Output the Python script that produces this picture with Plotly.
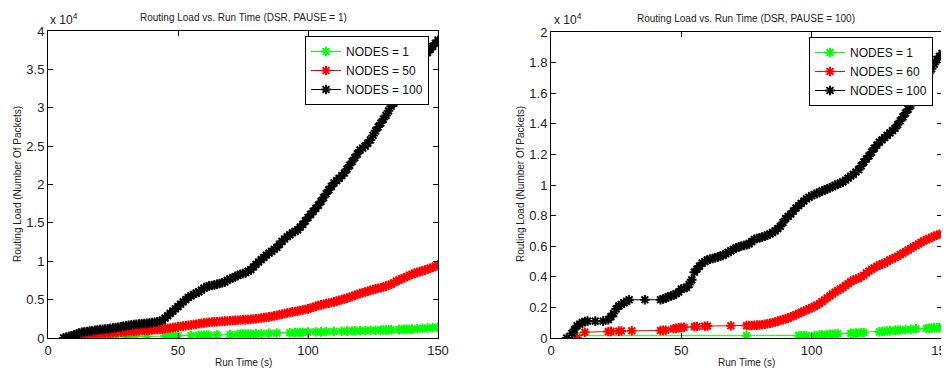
import plotly.graph_objects as go

# ---------------- Left panel (PAUSE = 1) ----------------
L_black_x = [6, 7, 8, 9, 10, 11, 12, 13, 14, 15,
             16, 17, 18, 19, 20, 21, 22, 23, 24, 25,
             26, 27, 28, 29, 30, 31, 32, 33, 34, 35,
             36, 37, 38, 39, 40, 41, 42, 43, 44, 45,
             46, 47, 48, 49, 50, 51, 52, 53, 54, 55,
             56, 57, 58, 59, 60, 61, 62, 63, 64, 65,
             66, 67, 68, 69, 70, 71, 72, 73, 74, 75,
             76, 77, 78, 79, 80, 81, 82, 83, 84, 85,
             86, 87, 88, 89, 90, 91, 92, 93, 94, 95,
             96, 97, 98, 99, 100, 101, 102, 103, 104, 105,
             106, 107, 108, 109, 110, 111, 112, 113, 114, 115,
             116, 117, 118, 119, 120, 121, 122, 123, 124, 125,
             126, 127, 128, 129, 130, 131, 132, 133, 134, 135,
             136, 137, 138, 139, 140, 141, 142, 143, 144, 145,
             146, 147, 148, 149, 150]
L_black_y = [0, 100, 200, 300, 400, 520, 650, 730, 800, 850,
             900, 950, 1000, 1050, 1100, 1120, 1150, 1200, 1250, 1300,
             1350, 1400, 1450, 1520, 1600, 1650, 1700, 1750, 1800, 1820,
             1850, 1880, 1900, 1950, 2000, 2050, 2100, 2180, 2300, 2600,
             2900, 3200, 3500, 3800, 4100, 4400, 4700, 5000, 5300, 5500,
             5700, 5850, 6000, 6250, 6500, 6650, 6800, 6850, 6900, 7000,
             7100, 7200, 7300, 7500, 7700, 7850, 8000, 8150, 8300, 8400,
             8500, 8700, 8900, 9250, 9600, 9900, 10200, 10500, 10800, 11050,
             11300, 11550, 11800, 12200, 12600, 12900, 13200, 13450, 13700, 13900,
             14100, 14450, 14800, 15250, 15700, 16100, 16500, 16900, 17300, 17800,
             18300, 18800, 19300, 19750, 20200, 20500, 20800, 21150, 21500, 22000,
             22500, 23000, 23500, 24000, 24500, 24750, 25000, 25400, 25800, 26400,
             27000, 27500, 28000, 28500, 29000, 29600, 30200, 30600, 31000, 31500,
             32000, 32600, 33200, 33700, 34200, 34750, 35300, 35850, 36400, 36800,
             37200, 37600, 38000, 38400, 38800]

L_red_x = [10, 11, 12, 13, 14, 15, 16, 17, 18, 19,
           20, 21, 22, 23, 24, 25, 26, 27, 28, 29,
           30, 31, 32, 33, 34, 35, 36, 37, 38, 39,
           40, 41, 42, 43, 44, 45, 46, 47, 48, 49,
           50, 51, 52, 53, 54, 55, 56, 57, 58, 59,
           60, 61, 62, 63, 64, 65, 66, 67, 68, 69,
           70, 71, 72, 73, 74, 75, 76, 77, 78, 79,
           80, 81, 82, 83, 84, 85, 86, 87, 88, 89,
           90, 91, 92, 93, 94, 95, 96, 97, 98, 99,
           100, 101, 102, 103, 104, 105, 106, 107, 108, 109,
           110, 111, 112, 113, 114, 115, 116, 117, 118, 119,
           120, 121, 122, 123, 124, 125, 126, 127, 128, 129,
           130, 131, 132, 133, 134, 135, 136, 137, 138, 139,
           140, 141, 142, 143, 144, 145, 146, 147, 148, 149,
           150]
L_red_y = [0, 80, 150, 220, 300, 350, 400, 450, 500, 520,
           550, 580, 600, 620, 650, 680, 700, 720, 750, 780,
           800, 820, 850, 880, 900, 920, 950, 980, 1000, 1020,
           1050, 1080, 1100, 1120, 1150, 1200, 1250, 1300, 1350, 1400,
           1450, 1500, 1550, 1600, 1650, 1700, 1750, 1800, 1850, 1900,
           1950, 2000, 2050, 2080, 2100, 2120, 2150, 2180, 2200, 2220,
           2250, 2280, 2300, 2320, 2350, 2380, 2400, 2420, 2450, 2480,
           2500, 2550, 2600, 2650, 2700, 2750, 2800, 2880, 2950, 3020,
           3100, 3180, 3250, 3320, 3400, 3450, 3500, 3580, 3650, 3720,
           3800, 3900, 4000, 4120, 4250, 4320, 4400, 4480, 4550, 4620,
           4700, 4800, 4900, 5000, 5100, 5200, 5300, 5420, 5550, 5680,
           5800, 5900, 6000, 6100, 6200, 6300, 6400, 6480, 6550, 6650,
           6750, 6880, 7000, 7200, 7400, 7550, 7700, 7850, 8000, 8150,
           8300, 8420, 8550, 8650, 8750, 8850, 8950, 9080, 9200, 9350,
           9500]

L_green_x = [8, 10, 12, 15, 18, 20, 25, 30, 33, 38, 45, 47, 48, 49, 50, 55, 58, 59, 60, 61,
             62, 65, 70, 73, 74, 75, 76, 77, 78, 80, 82, 85, 88, 93, 95, 96, 97, 98, 100, 103,
             105, 107, 110, 113, 115, 117, 118, 120, 122, 124, 126, 128, 129, 130, 131, 132, 135, 136, 137, 138,
             139, 140, 142, 144, 146, 148, 150]
L_green_y = [0, 20, 40, 60, 80, 100, 120, 150, 170, 200, 250, 270, 280, 290, 300, 320, 340, 350, 360, 370,
             380, 400, 450, 480, 490, 500, 510, 520, 530, 550, 570, 600, 630, 680, 700, 710, 720, 730, 760, 790,
             800, 820, 850, 880, 900, 920, 930, 950, 970, 990, 1010, 1030, 1040, 1050, 1060, 1070, 1100, 1110, 1120, 1130,
             1140, 1150, 1200, 1250, 1300, 1350, 1400]

# ---------------- Right panel (PAUSE = 100) ----------------
R_black_x = [6, 8, 9, 10, 11, 12, 13, 14, 17, 20,
             22, 23, 24, 25, 26, 27, 28, 29, 30, 36,
             42, 43, 44, 45, 46, 47, 48, 49, 50, 51,
             52, 53, 54, 55, 56, 57, 58, 59, 60, 61,
             62, 63, 64, 65, 66, 67, 68, 69, 70, 71,
             72, 73, 74, 75, 76, 77, 78, 79, 80, 81,
             82, 83, 84, 85, 86, 87, 88, 89, 90, 91,
             92, 93, 94, 95, 96, 97, 98, 99, 100, 101,
             102, 103, 104, 105, 106, 107, 108, 109, 110, 111,
             112, 113, 114, 115, 116, 117, 118, 119, 120, 121,
             122, 123, 124, 125, 126, 127, 128, 129, 130, 131,
             132, 133, 134, 135, 136, 137, 138, 139, 140, 141,
             142, 143, 144, 145, 146, 147, 148, 149, 150]
R_black_y = [0, 300, 550, 800, 900, 1000, 1080, 1100, 1100, 1100,
             1200, 1400, 1600, 1900, 2100, 2200, 2300, 2400, 2500, 2500,
             2500, 2550, 2600, 2700, 2750, 2800, 2900, 3000, 3200, 3250,
             3300, 3500, 3800, 4300, 4500, 4700, 4900, 5000, 5100, 5150,
             5200, 5250, 5300, 5350, 5400, 5500, 5600, 5700, 5800, 5880,
             5950, 6000, 6050, 6100, 6150, 6300, 6450, 6500, 6550, 6600,
             6650, 6720, 6800, 6900, 7000, 7150, 7300, 7550, 7800, 7950,
             8100, 8300, 8500, 8650, 8800, 8950, 9100, 9200, 9300, 9380,
             9450, 9520, 9600, 9680, 9750, 9820, 9900, 9980, 10050, 10120,
             10200, 10320, 10450, 10580, 10700, 10850, 11000, 11250, 11500, 11700,
             11900, 12150, 12400, 12600, 12800, 12950, 13100, 13250, 13400, 13550,
             13700, 13950, 14200, 14450, 14700, 14950, 15200, 15550, 15900, 16150,
             16400, 16700, 17000, 17300, 17600, 17900, 18200, 18400, 18600]

R_red_x = [10, 13, 22, 23, 26, 27, 31, 42, 43, 44,
           47, 48, 49, 50, 51, 55, 56, 59, 60, 69,
           75, 76, 77, 78, 79, 80, 81, 82, 83, 84,
           85, 86, 87, 88, 89, 90, 91, 92, 93, 94,
           95, 96, 97, 98, 99, 100, 101, 102, 103, 104,
           105, 106, 107, 108, 109, 110, 111, 112, 113, 114,
           115, 116, 117, 118, 119, 120, 121, 122, 123, 124,
           125, 126, 127, 128, 129, 130, 131, 132, 133, 134,
           135, 136, 137, 138, 139, 140, 141, 142, 143, 144,
           145, 146, 147, 148, 149, 150]
R_red_y = [0, 380, 420, 430, 450, 460, 470, 490, 500, 510,
           600, 640, 660, 680, 700, 740, 750, 770, 780, 800,
           810, 815, 820, 830, 840, 850, 870, 900, 930, 960,
           1000, 1050, 1100, 1150, 1200, 1250, 1300, 1380, 1450, 1520,
           1600, 1680, 1750, 1830, 1900, 1980, 2060, 2150, 2250, 2380,
           2500, 2620, 2750, 2880, 3000, 3100, 3200, 3300, 3420, 3550,
           3680, 3780, 3850, 3900, 4000, 4100, 4250, 4380, 4480, 4580,
           4680, 4760, 4830, 4900, 5000, 5100, 5180, 5250, 5350, 5450,
           5550, 5650, 5750, 5850, 5950, 6050, 6150, 6250, 6350, 6430,
           6500, 6580, 6650, 6720, 6780, 6800]

R_green_x = [9, 10, 75, 95, 96, 97, 98, 101, 103, 104, 106, 107, 108, 109, 110, 115, 116, 117, 118, 119,
             120, 126, 127, 128, 129, 130, 132, 133, 134, 136, 138, 140, 144, 145, 146, 147, 148, 149, 150]
R_green_y = [0, 150, 150, 150, 150, 150, 150, 160, 200, 210, 230, 240, 250, 260, 270, 300, 310, 320, 330, 340,
             350, 400, 420, 440, 460, 480, 500, 510, 520, 550, 570, 600, 620, 640, 650, 660, 670, 680, 690]

L_ticks = [0, 5000, 10000, 15000, 20000, 25000, 30000, 35000, 40000]
L_ticktext = ["0", "0.5", "1", "1.5", "2", "2.5", "3", "3.5", "4"]
R_ticks = [0, 2000, 4000, 6000, 8000, 10000, 12000, 14000, 16000, 18000, 20000]
R_ticktext = ["0", "0.2", "0.4", "0.6", "0.8", "1", "1.2", "1.4", "1.6", "1.8", "2"]
X_ticks = [0, 50, 100, 150]

GREEN = "#00ff00"
RED = "#ff0000"
BLACK = "#000000"
FONT = "Liberation Sans, Arial, sans-serif"

fig = go.Figure()


def add(x, y, name, color, xa, ya, legend):
    fig.add_trace(go.Scatter(
        x=x, y=y, name=name, mode="lines+markers",
        line=dict(color=color, width=1),
        marker=dict(symbol="asterisk-open", size=8, color=color,
                    line=dict(color=color, width=2)),
        xaxis=xa, yaxis=ya, legend=legend, cliponaxis=True))


add(L_green_x, L_green_y, "NODES = 1", GREEN, "x", "y", "legend")
add(L_red_x, L_red_y, "NODES = 50", RED, "x", "y", "legend")
add(L_black_x, L_black_y, "NODES = 100", BLACK, "x", "y", "legend")
add(R_green_x, R_green_y, "NODES = 1", GREEN, "x2", "y2", "legend2")
add(R_red_x, R_red_y, "NODES = 60", RED, "x2", "y2", "legend2")
add(R_black_x, R_black_y, "NODES = 100", BLACK, "x2", "y2", "legend2")

# The page body has an 8px margin, so the figure is drawn 8px in from the
# window's top-left corner; size and place everything accordingly.
OFF = 8
W, H = 949 - OFF, 368 - OFF


def px(x):
    return (x - OFF) / W


def py(y):
    return (H - (y - OFF)) / H


ax_common = dict(showline=True, linecolor="black", linewidth=1, mirror="allticks",
                 ticks="inside", ticklen=5, tickcolor="black", showgrid=False, zeroline=False,
                 automargin=False, ticklabeloverflow="allow",
                 tickfont=dict(family=FONT, size=13, color="#222"))

legend_common = dict(bgcolor="white", bordercolor="black", borderwidth=1,
                     font=dict(family=FONT, size=12, color="#111"),
                     xanchor="right", yanchor="top", tracegroupgap=0,
                     itemwidth=30)

fig.update_layout(
    width=W, height=H, margin=dict(l=0, r=0, t=0, b=0),
    paper_bgcolor="white", plot_bgcolor="white",
    xaxis=dict(domain=[px(48), px(438)], range=[0, 150], tickvals=X_ticks, anchor="y", **ax_common),
    yaxis=dict(domain=[py(338), py(31)], range=[0, 40000], tickvals=L_ticks,
               ticktext=L_ticktext, anchor="x", **ax_common),
    xaxis2=dict(domain=[px(551), px(942)], range=[0, 150], tickvals=X_ticks, anchor="y2", **ax_common),
    yaxis2=dict(domain=[py(338), py(32)], range=[0, 20000], tickvals=R_ticks,
                ticktext=R_ticktext, anchor="x2", **ax_common),
    legend=dict(x=px(429), y=py(36), **legend_common),
    legend2=dict(x=px(933), y=py(37), **legend_common),
    showlegend=True,
)

small = dict(family=FONT, size=10, color="#222")
ann = [
    dict(text="Routing Load vs. Run Time (DSR, PAUSE = 1)", x=px(243), y=py(17),
         xanchor="center", yanchor="middle", font=small),
    dict(text="Routing Load vs. Run Time (DSR, PAUSE = 100)", x=px(746), y=py(18),
         xanchor="center", yanchor="middle", font=small),
    dict(text="Run Time (s)", x=px(243), y=py(362), xanchor="center", yanchor="middle", font=small),
    dict(text="Run Time (s)", x=px(746), y=py(362), xanchor="center", yanchor="middle", font=small),
    dict(text="Routing Load (Number Of Packets)", x=px(17), y=py(184), textangle=-90,
         xanchor="center", yanchor="middle", font=small),
    dict(text="Routing Load (Number Of Packets)", x=px(520), y=py(184), textangle=-90,
         xanchor="center", yanchor="middle", font=small),
    dict(text="x 10<sup>4</sup>", x=px(48), y=py(19), xanchor="left", yanchor="middle",
         font=dict(family=FONT, size=12, color="#222")),
    dict(text="x 10<sup>4</sup>", x=px(552), y=py(19), xanchor="left", yanchor="middle",
         font=dict(family=FONT, size=12, color="#222")),
]
for a in ann:
    a.update(xref="paper", yref="paper", showarrow=False)
fig.update_layout(annotations=ann)

fig.write_html("out.html")
